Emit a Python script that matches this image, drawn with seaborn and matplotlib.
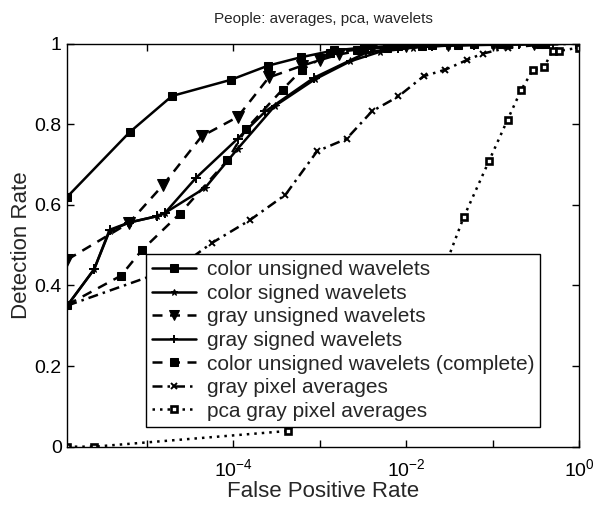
import matplotlib
matplotlib.use("Agg")
import matplotlib.pyplot as plt
from matplotlib.ticker import FixedLocator, FixedFormatter, NullFormatter
import seaborn as sns
import pandas as pd

# ---------------- data ----------------
title = "People: averages, pca, wavelets"
x_label = "False Positive Rate"
y_label = "Detection Rate"

color_unsigned_x = [1.2e-6, 6.3e-6, 1.95e-5, 9.3e-5, 2.5e-4, 6.0e-4, 1.45e-3, 3.2e-3, 8e-3, 2e-2, 6e-2, 0.15, 0.4, 1.0]
color_unsigned_y = [0.62, 0.78, 0.87, 0.91, 0.945, 0.966, 0.983, 0.99, 0.995, 0.997, 0.998, 0.999, 1.0, 1.0]

color_signed_x = [1.2e-6, 2.45e-6, 3.7e-6, 6.2e-6, 1.32e-5, 1.62e-5, 4.7e-5, 1.12e-4, 3.0e-4, 8.7e-4, 2.24e-3, 5e-3, 1.2e-2, 3e-2, 0.1, 0.3, 1.0]
color_signed_y = [0.35, 0.44, 0.535, 0.556, 0.572, 0.58, 0.642, 0.739, 0.845, 0.911, 0.956, 0.98, 0.99, 0.995, 0.997, 0.999, 1.0]

gray_unsigned_x = [1.2e-6, 6.2e-6, 1.55e-5, 4.3e-5, 1.12e-4, 2.57e-4, 6.2e-4, 1e-3, 1.66e-3, 4e-3, 1e-2, 3e-2, 0.1, 0.3, 1.0]
gray_unsigned_y = [0.464, 0.555, 0.65, 0.77, 0.818, 0.916, 0.945, 0.959, 0.973, 0.988, 0.993, 0.996, 0.998, 0.999, 1.0]

gray_signed_x = [1.2e-6, 2.45e-6, 3.7e-6, 6.2e-6, 1.32e-5, 1.62e-5, 3.7e-5, 1.12e-4, 2.35e-4, 8.5e-4, 3.4e-3, 8e-3, 2e-2, 6e-2, 0.2, 0.5, 1.0]
gray_signed_y = [0.35, 0.44, 0.538, 0.556, 0.572, 0.58, 0.667, 0.764, 0.832, 0.915, 0.977, 0.99, 0.994, 0.997, 0.998, 0.999, 1.0]

complete_x = [1.2e-6, 5.0e-6, 8.7e-6, 2.4e-5, 8.5e-5, 1.4e-4, 3.7e-4, 6.2e-4, 1.32e-3, 2.7e-3, 6e-3, 1.5e-2, 4e-2, 0.12, 0.35, 1.0]
complete_y = [0.352, 0.424, 0.487, 0.578, 0.71, 0.788, 0.886, 0.935, 0.977, 0.985, 0.99, 0.994, 0.997, 0.998, 0.999, 1.0]

gray_pixel_x = [1.2e-6, 2.5e-5, 5.6e-5, 1.55e-4, 4.0e-4, 9.3e-4, 2.04e-3, 4.0e-3, 8.1e-3, 1.58e-2, 2.8e-2, 5.0e-2, 7.6e-2, 0.15, 0.35, 1.0]
gray_pixel_y = [0.35, 0.45, 0.505, 0.562, 0.625, 0.733, 0.764, 0.832, 0.869, 0.919, 0.935, 0.959, 0.975, 0.99, 0.997, 1.0]

pca_x = [1.2e-6, 2.45e-6, 4.3e-4, 2.5e-2, 4.6e-2, 9.0e-2, 0.148, 0.214, 0.29, 0.39, 0.49, 0.59, 1.0]
pca_y = [0.0, 0.0, 0.039, 0.42, 0.569, 0.708, 0.811, 0.886, 0.934, 0.941, 0.982, 0.982, 0.99]

series_names = [
    "color unsigned wavelets",
    "color signed wavelets",
    "gray unsigned wavelets",
    "gray signed wavelets",
    "color unsigned wavelets (complete)",
    "gray pixel averages",
    "pca gray pixel averages",
]
series_x = [color_unsigned_x, color_signed_x, gray_unsigned_x, gray_signed_x,
            complete_x, gray_pixel_x, pca_x]
series_y = [color_unsigned_y, color_signed_y, gray_unsigned_y, gray_signed_y,
            complete_y, gray_pixel_y, pca_y]

y_ticks = [0, 0.2, 0.4, 0.6, 0.8, 1.0]
y_tick_labels = ["0", "0.2", "0.4", "0.6", "0.8", "1"]
x_major_ticks = [1e-4, 1e-2, 1e0]
x_major_labels = [r"$10^{-4}$", r"$10^{-2}$", r"$10^{0}$"]
x_minor_ticks = [1e-5, 1e-3, 1e-1]

# ---------------- styling ----------------
sns.set_style("white")
plt.rcParams["font.family"] = ["Liberation Sans", "DejaVu Sans"]
plt.rcParams["mathtext.fontset"] = "custom"
plt.rcParams["mathtext.rm"] = "Liberation Sans"
plt.rcParams["mathtext.it"] = "Liberation Sans"
plt.rcParams["mathtext.bf"] = "Liberation Sans:bold"

styles = [
    dict(linestyle="-", marker="s", markersize=6, markerfacecolor="k"),
    dict(linestyle="-", marker="*", markersize=5.5, markerfacecolor="k"),
    dict(linestyle=(0, (4, 3)), marker="v", markersize=8, markerfacecolor="k"),
    dict(linestyle="-", marker="+", markersize=6.5, markeredgewidth=1.4),
    dict(linestyle=(0, (4, 3)), marker="s", markersize=6, markerfacecolor="k"),
    dict(linestyle=(0, (4, 2, 1, 2)), marker="x", markersize=4.5, markeredgewidth=1.4),
    dict(linestyle=(0, (1, 2)), marker="s", markersize=5, markerfacecolor="white", markeredgewidth=1.9),
]

fig = plt.figure(figsize=(6.03, 5.05), dpi=100)
ax = fig.add_axes([0.1116, 0.1155, 0.8491, 0.7982])

for name, xs, ys, st in zip(series_names, series_x, series_y, styles):
    df = pd.DataFrame({"x": xs, "y": ys})
    sns.lineplot(data=df, x="x", y="y", ax=ax, color="k", linewidth=1.8,
                 estimator=None, sort=False, label=name,
                 markeredgecolor="k", **st)

ax.set_xscale("log")
ax.set_xlim(1.2e-6, 1.0)
ax.set_ylim(0, 1)

ax.xaxis.set_major_locator(FixedLocator(x_major_ticks))
ax.xaxis.set_major_formatter(FixedFormatter(x_major_labels))
ax.xaxis.set_minor_locator(FixedLocator(x_minor_ticks))
ax.xaxis.set_minor_formatter(NullFormatter())
ax.set_yticks(y_ticks)
ax.set_yticklabels(y_tick_labels)

ax.tick_params(axis="both", which="both", direction="in", top=True, right=True,
               bottom=True, left=True, length=5, width=1, colors="k",
               labelsize=14, pad=4)
ax.tick_params(axis="x", which="major", pad=8)

for s in ax.spines.values():
    s.set_color("k")
    s.set_linewidth(1.0)

ax.set_title(title, fontsize=11, pad=15)
ax.set_xlabel(x_label, fontsize=16, labelpad=1)
ax.set_ylabel(y_label, fontsize=16, labelpad=2)

leg = ax.legend(loc="upper left", bbox_to_anchor=(0.154, 0.478), borderaxespad=0,
                fontsize=15, frameon=True, fancybox=False, framealpha=1,
                edgecolor="k", handlelength=2.1, handletextpad=0.5,
                labelspacing=0.22, borderpad=0.3, markerscale=0.85)
leg.get_frame().set_linewidth(1.0)
leg.set_zorder(10)

fig.savefig("out.png", dpi=100)
